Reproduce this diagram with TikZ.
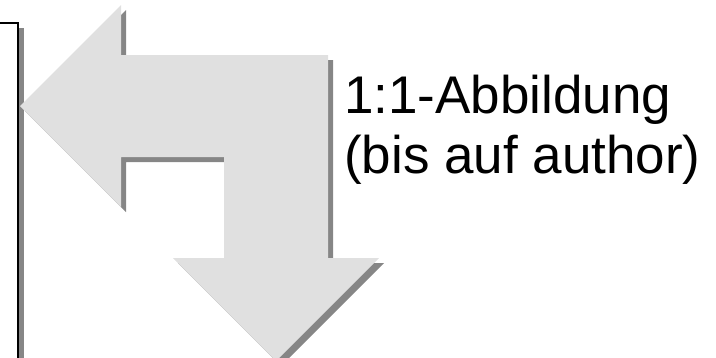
\documentclass[tikz,border=0pt]{standalone}
\usepackage{fontspec}
\setmainfont{Liberation Sans}
\definecolor{arrowfill}{HTML}{E0E0E0}
\definecolor{shadowgray}{HTML}{868686}
\begin{document}
\begin{tikzpicture}[x=1pt,y=-1pt,
  shadowpart/.style={fill=shadowgray,draw=none},
  arrowpart/.style={fill=arrowfill,draw=none},
  caption/.style={anchor=base west,inner sep=0pt,font=\fontsize{53}{60}\selectfont}]
  \useasboundingbox (0,0) rectangle (716,357);
  % framed panel on the left, partly outside the picture
  \fill[shadowgray] (-20,28) rectangle (24,400);
  \filldraw[fill=white,draw=black,line width=2pt] (-20,23) rectangle (18,400);
  % bent arrow: left, then down
  \def\bentarrow{(20,106) -- (121,5) -- (121,55) -- (328,55) -- (328,258)
    -- (379,258) -- (276,361) -- (173,258) -- (224,258) -- (224,157)
    -- (121,157) -- (121,207) -- cycle}
  \fill[shadowpart,shift={(5,5)}] \bentarrow;
  \fill[arrowpart] \bentarrow;
  % caption
  \node[caption] (line1) at (344,113) {1:1-Abbildung};
  \node[caption] (line2) at (344,173) {(bis auf author)};
\end{tikzpicture}
\end{document}
